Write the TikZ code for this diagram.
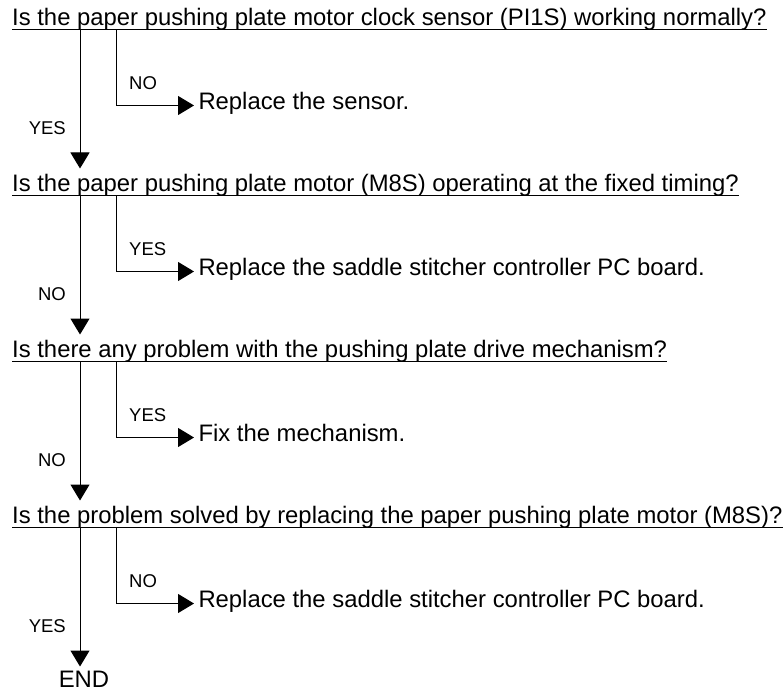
\documentclass[tikz,border=0pt]{standalone}
\usepackage{fontspec}
\setmainfont{Liberation Sans}
\usetikzlibrary{arrows.meta}

\tikzset{
  question/.style={anchor=base west, inner sep=0pt, font=\fontsize{23.85}{28}\selectfont},
  answer/.style={anchor=west, inner xsep=4.5pt, inner ysep=0pt, outer sep=0pt,
    text height=12pt, text depth=4pt, font=\fontsize{23.85}{28}\selectfont},
  reply/.style={inner sep=0pt, font=\fontsize{18.5}{22}\selectfont},
  flow/.style={line width=1pt, -{Triangle[length=16pt,width=19pt]}},
}

\begin{document}
\begin{tikzpicture}[x=1pt, y=-1pt]
  \useasboundingbox (0,0) rectangle (783,692);

  % questions
  \node[question] (q1) at (12,25.5)  {Is the paper pushing plate motor clock sensor (PI1S) working normally?};
  \node[question] (q2) at (12,191.5) {Is the paper pushing plate motor (M8S) operating at the fixed timing?};
  \node[question] (q3) at (12,357.5) {Is there any problem with the pushing plate drive mechanism?};
  \node[question] (q4) at (12,523.5) {Is the problem solved by replacing the paper pushing plate motor (M8S)?};
  \node[question, anchor=base, text depth=0pt] (fin) at (84,687.5) {END};

  \foreach \i in {1,2,3,4}{\draw[line width=1pt] ([yshift=-4pt]q\i.base west) -- ([yshift=-4pt]q\i.base east);}

  % answers
  \node[answer] (a1) at (194,105.5) {Replace the sensor.};
  \node[answer] (a2) at (194,271.5) {Replace the saddle stitcher controller PC board.};
  \node[answer] (a3) at (194,437.5) {Fix the mechanism.};
  \node[answer] (a4) at (194,603.5) {Replace the saddle stitcher controller PC board.};

  \coordinate (m1) at (80,29.5);  \coordinate (b1) at (116,29.5);  \coordinate (t1) at (80,168.5);
  \coordinate (m2) at (80,195.5); \coordinate (b2) at (116,195.5); \coordinate (t2) at (80,334.5);
  \coordinate (m3) at (80,361.5); \coordinate (b3) at (116,361.5); \coordinate (t3) at (80,500.5);
  \coordinate (m4) at (80,527.5); \coordinate (b4) at (116,527.5); \coordinate (t4) at (80,666.5);

  \foreach \i in {1,2,3,4}{
    \draw[flow] (m\i) -- (t\i);
    \draw[flow] (b\i) |- (a\i.west);
  }

  \node[reply, anchor=west] (n1) at (129,83.5)  {NO};
  \node[reply, anchor=east] (y1) at (66,128.5)  {YES};
  \node[reply, anchor=west] (y2) at (129,249.5) {YES};
  \node[reply, anchor=east] (n2) at (66,294.5)  {NO};
  \node[reply, anchor=west] (y3) at (129,415.5) {YES};
  \node[reply, anchor=east] (n3) at (66,460.5)  {NO};
  \node[reply, anchor=west] (n4) at (129,581.5) {NO};
  \node[reply, anchor=east] (y4) at (66,626.5)  {YES};
\end{tikzpicture}
\end{document}
